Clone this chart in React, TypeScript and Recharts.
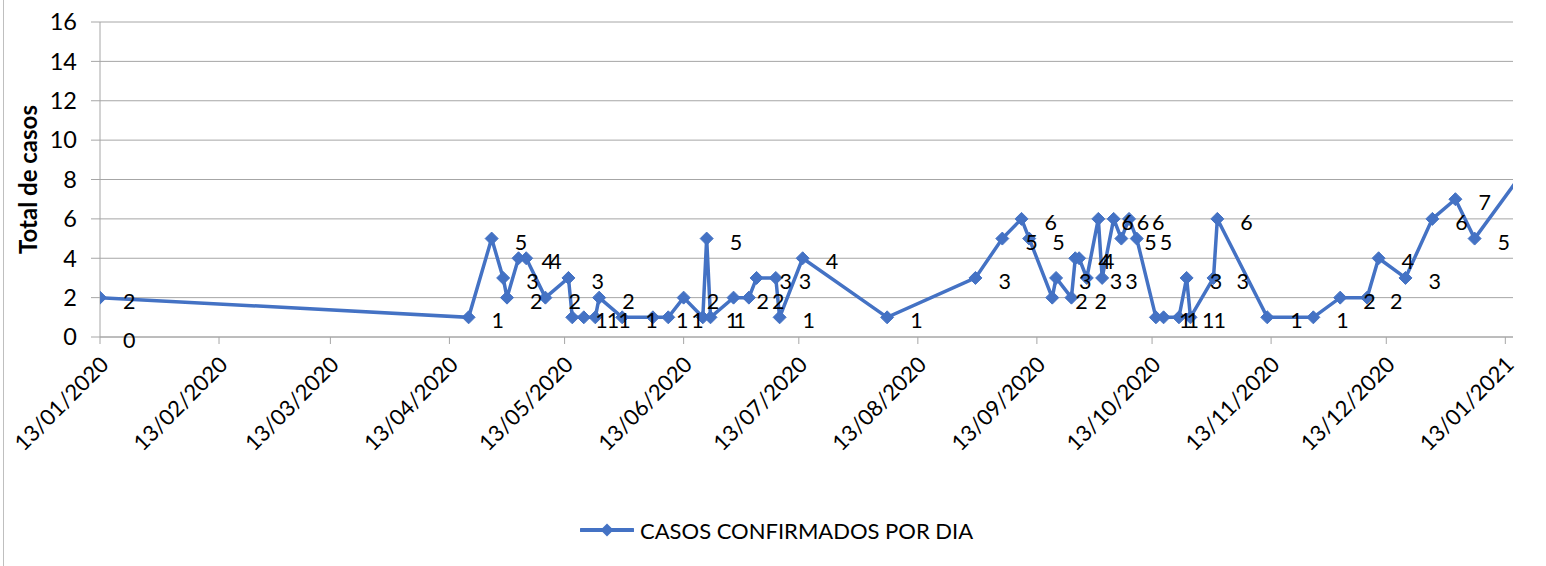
import { LineChart, Line, XAxis, YAxis, CartesianGrid, Legend, LabelList } from "recharts";

// fechas de los casos (dd/mm/aaaa) y casos confirmados por día
const dates = [
  "13/01/2020", "18/04/2020", "24/04/2020", "27/04/2020", "28/04/2020", "01/05/2020",
  "03/05/2020", "08/05/2020", "14/05/2020", "15/05/2020", "18/05/2020", "21/05/2020",
  "22/05/2020", "28/05/2020", "05/06/2020", "09/06/2020", "13/06/2020", "18/06/2020",
  "19/06/2020", "20/06/2020", "26/06/2020", "30/06/2020", "02/07/2020", "07/07/2020",
  "08/07/2020", "14/07/2020", "05/08/2020", "28/08/2020", "04/09/2020", "09/09/2020",
  "11/09/2020", "17/09/2020", "18/09/2020", "22/09/2020", "23/09/2020", "24/09/2020",
  "26/09/2020", "29/09/2020", "30/09/2020", "03/10/2020", "05/10/2020", "07/10/2020",
  "09/10/2020", "14/10/2020", "16/10/2020", "20/10/2020", "22/10/2020", "23/10/2020",
  "29/10/2020", "30/10/2020", "12/11/2020", "24/11/2020", "01/12/2020", "08/12/2020",
  "11/12/2020", "18/12/2020", "25/12/2020", "31/12/2020", "05/01/2021", "20/01/2021",
];
const cases = [
  2, 1, 5, 3, 2, 4,
  4, 2, 3, 1, 1, 1,
  2, 1, 1, 1, 2, 1,
  5, 1, 2, 2, 3, 3,
  1, 4, 1, 3, 5, 6,
  5, 2, 3, 2, 4, 4,
  3, 6, 3, 6, 5, 6,
  5, 1, 1, 1, 3, 1,
  3, 6, 1, 1, 2, 2,
  4, 3, 6, 7, 5, 9,
];

// etiqueta "0" que aparece bajo el primer punto
const blankDates = ["13/01/2020"];
const blankValues = [0];

const tickLabels = [
  "13/01/2020", "13/02/2020", "13/03/2020", "13/04/2020", "13/05/2020", "13/06/2020",
  "13/07/2020", "13/08/2020", "13/09/2020", "13/10/2020", "13/11/2020", "13/12/2020",
  "13/01/2021",
];
const axisEnd = "15/01/2021";
const yTicks = [0, 2, 4, 6, 8, 10, 12, 14, 16];
const seriesName = "CASOS CONFIRMADOS POR DIA";

const BLUE = "#4472C4";
const GRID = "#a6a6a6";
const FONT = "Lato, 'Noto Sans', sans-serif";

const toTime = (s: string) => {
  const [d, m, y] = s.split("/").map(Number);
  return Date.UTC(y, m - 1, d);
};

const data = dates.map((d, i) => {
  const j = blankDates.indexOf(d);
  return { t: toTime(d), cases: cases[i], blank: j >= 0 ? blankValues[j] : undefined };
});

const tickTimes = tickLabels.map(toTime);
const endTime = toTime(axisEnd);
const fmt = (t: number) => {
  const d = new Date(t);
  const p = (n: number) => String(n).padStart(2, "0");
  return `${p(d.getUTCDate())}/${p(d.getUTCMonth() + 1)}/${d.getUTCFullYear()}`;
};

function Diamond(props: any) {
  const { cx, cy } = props;
  if (cx == null || cy == null) return null;
  const r = 6.5;
  return (
    <path
      d={`M${cx},${cy - r}L${cx + r},${cy}L${cx},${cy + r}L${cx - r},${cy}Z`}
      fill={BLUE}
      stroke={BLUE}
    />
  );
}

function DateTick(props: any) {
  const { x, y, payload } = props;
  const tx = x + 10;
  const ty = y + 20;
  return (
    <text
      x={tx}
      y={ty}
      transform={`rotate(-45 ${tx} ${ty})`}
      textAnchor="end"
      fontSize={22}
      fill="#000"
    >
      {fmt(payload.value)}
    </text>
  );
}

function ValueLabel(props: any) {
  const { x, y, value, index } = props;
  if (value == null || x == null) return null;
  // el punto que queda fuera del eje no lleva etiqueta visible
  if (data[index] && data[index].t > endTime) return null;
  return (
    <text x={x + 23} y={y + 3} dominantBaseline="central" fontSize={21.5} fill="#000">
      {value}
    </text>
  );
}

function LegendContent() {
  return (
    <div style={{ display: "flex", alignItems: "center", height: 30, paddingLeft: 580, fontFamily: FONT }}>
      <svg width={54} height={16}>
        <line x1={1} y1={8} x2={53} y2={8} stroke={BLUE} strokeWidth={4} strokeLinecap="round" />
        <path d="M27,1.5L33.5,8L27,14.5L20.5,8Z" fill={BLUE} />
      </svg>
      <span style={{ marginLeft: 6, fontSize: 22, color: "#000" }}>{seriesName}</span>
    </div>
  );
}

export default function App() {
  return (
    <div style={{ position: "absolute", left: 0, top: 0, width: 1546, height: 566, background: "#fff", fontFamily: FONT }}>
      <div style={{ position: "absolute", left: 3, top: 0, width: 1, height: 566, background: "#bfbfbf" }} />
      <LineChart
        width={1546}
        height={566}
        data={data}
        margin={{ top: 22, right: 33, left: 0, bottom: 21 }}
      >
        <CartesianGrid vertical={false} stroke={GRID} />
        <XAxis
          dataKey="t"
          type="number"
          domain={[tickTimes[0], endTime]}
          allowDataOverflow
          ticks={tickTimes}
          interval={0}
          tick={<DateTick />}
          tickSize={7}
          tickLine={{ stroke: GRID }}
          axisLine={{ stroke: GRID }}
          height={178}
        />
        <YAxis
          domain={[0, 16]}
          ticks={yTicks}
          width={100}
          tickSize={9}
          tickMargin={14}
          tickLine={{ stroke: GRID }}
          axisLine={{ stroke: GRID }}
          tick={{ fontSize: 23.5, fill: "#000" }}
          label={{
            content: (p: any) => {
              const vb = p.viewBox || {};
              const cx = (vb.x || 0) + 27;
              const cy = (vb.y || 0) + (vb.height || 0) / 2;
              return (
                <text
                  x={cx}
                  y={cy}
                  transform={`rotate(-90 ${cx} ${cy})`}
                  textAnchor="middle"
                  dominantBaseline="central"
                  fontSize={24}
                  fontWeight="bold"
                  fill="#000"
                >
                  Total de casos
                </text>
              );
            },
          }}
        />
        <Legend verticalAlign="bottom" wrapperStyle={{ left: 0, width: 1546 }} content={<LegendContent />} />
        <Line
          dataKey="cases"
          name={seriesName}
          stroke={BLUE}
          strokeWidth={3.5}
          dot={<Diamond />}
          activeDot={false}
          isAnimationActive={false}
        >
          <LabelList dataKey="cases" content={<ValueLabel />} />
        </Line>
        <Line
          dataKey="blank"
          stroke="none"
          dot={false}
          activeDot={false}
          legendType="none"
          isAnimationActive={false}
        >
          <LabelList dataKey="blank" content={<ValueLabel />} />
        </Line>
      </LineChart>
    </div>
  );
}
